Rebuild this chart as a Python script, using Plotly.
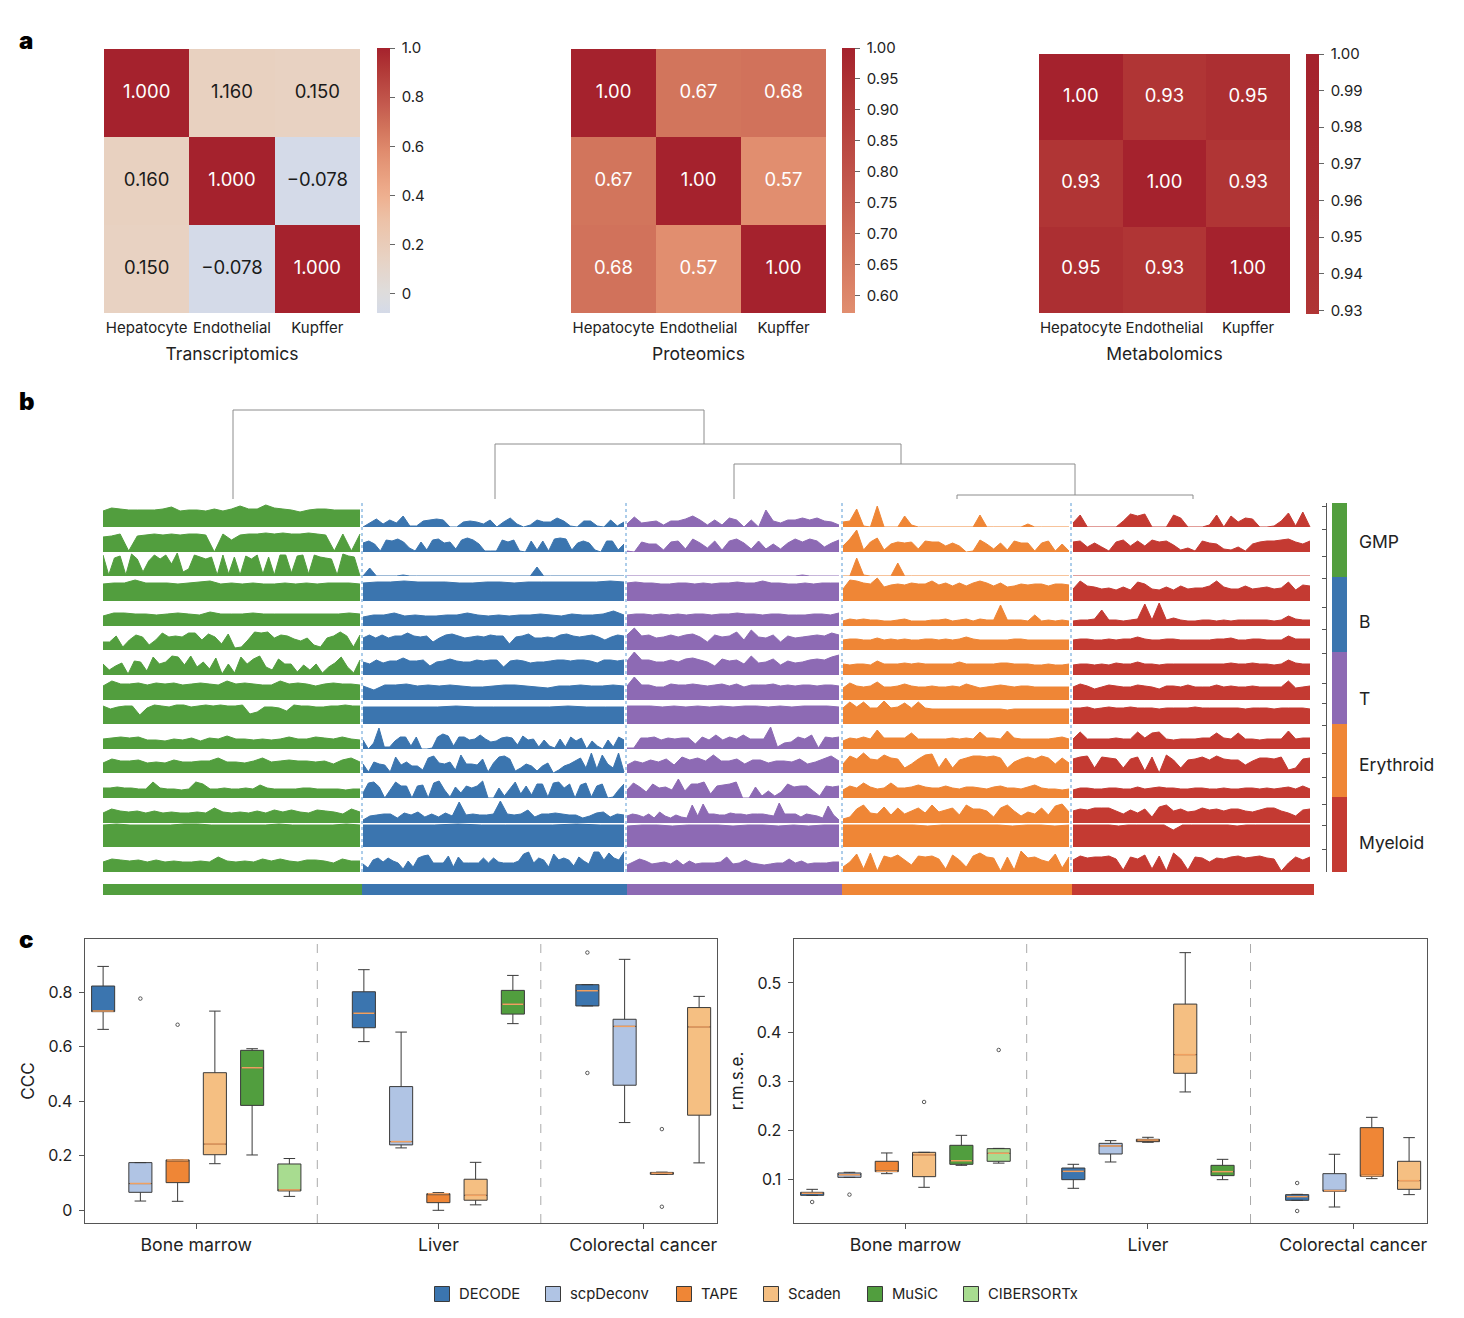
import numpy as np
import plotly.graph_objects as go

W, H = 1464, 1318
FONT = "Inter"
TXT = "#222222"

# panel a
cell_names = ["Hepatocyte", "Endothelial", "Kupffer"]
omics_titles = ["Transcriptomics", "Proteomics", "Metabolomics"]
trans_z = [[1.0, 0.16, 0.15], [0.16, 1.0, -0.078], [0.15, -0.078, 1.0]]
trans_text = [["1.000", "1.160", "0.150"], ["0.160", "1.000", "−0.078"], ["0.150", "−0.078", "1.000"]]
prot_z = [[1.0, 0.67, 0.68], [0.67, 1.0, 0.57], [0.68, 0.57, 1.0]]
prot_text = [["1.00", "0.67", "0.68"], ["0.67", "1.00", "0.57"], ["0.68", "0.57", "1.00"]]
metab_z = [[1.0, 0.93, 0.95], [0.93, 1.0, 0.93], [0.95, 0.93, 1.0]]
metab_text = [["1.00", "0.93", "0.95"], ["0.93", "1.00", "0.93"], ["0.95", "0.93", "1.00"]]
trans_ticks = [0, 0.2, 0.4, 0.6, 0.8, 1.0]
trans_ticktext = ["0", "0.2", "0.4", "0.6", "0.8", "1.0"]
prot_ticks = [0.6, 0.65, 0.7, 0.75, 0.8, 0.85, 0.9, 0.95, 1.0]
metab_ticks = [0.93, 0.94, 0.95, 0.96, 0.97, 0.98, 0.99, 1.0]
z_limits = [(-0.078, 1.0), (0.572, 1.0), (0.929, 1.0)]
scale_vals = [-0.078, 0.0, 0.15, 0.3, 0.4, 0.57, 0.67, 0.8, 0.93, 1.0]
scale_cols = ["#d4dae8", "#dfdedd", "#e8d2c3", "#edc2a8", "#efb08f", "#e28f70", "#d3755d", "#c0534a", "#b03535", "#a5222d"]

# panel b, heights per strip
group_names = ["GMP", "B", "T", "Erythroid", "Myeloid"]
group_cols = ["#529e3e", "#3b75af", "#8d6ab4", "#ef8636", "#c43a32"]
group_start = [0, 260, 524, 740, 970]
group_end = [257, 521, 736, 966, 1207]

gmp_rows = [
    [16, 19, 18, 17, 17, 17, 17, 18, 20, 16, 17, 17, 16, 18, 16, 18, 21, 18, 18, 22, 19, 18, 17, 15, 17, 18, 18, 17, 17, 17, 17],
    [15, 16, 18, 1, 16, 17, 18, 17, 18, 17, 18, 18, 17, 0, 18, 12, 17, 18, 18, 19, 18, 19, 18, 18, 19, 18, 17, 1, 18, 1, 18],
    [21, 1, 18, 20, 1, 22, 17, 4, 15, 21, 17, 21, 12, 23, 4, 7, 21, 19, 17, 19, 1, 21, 2, 19, 1, 20, 17, 21, 2, 19, 1, 21, 21, 3, 20, 21, 2, 21, 19, 18, 17, 1, 22, 20, 19, 0],
    [17, 18, 18, 21, 18, 18, 18, 17, 18, 19, 20, 17, 18, 17, 18, 17, 17, 18, 17, 18, 17, 18, 18, 18, 17],
    [10, 13, 13, 12, 12, 11, 12, 13, 12, 11, 14, 12, 12, 12, 13, 12, 12, 12, 12, 12, 12, 12, 12, 13, 12],
    [8, 8, 14, 3, 10, 15, 13, 5, 10, 17, 13, 14, 13, 17, 17, 10, 16, 13, 6, 16, 2, 3, 10, 18, 17, 18, 12, 15, 14, 11, 9, 12, 5, 3, 12, 14, 18, 14, 3, 15],
    [11, 5, 9, 12, 1, 14, 13, 4, 18, 11, 13, 19, 18, 10, 19, 8, 13, 6, 17, 1, 11, 2, 18, 11, 16, 19, 8, 5, 16, 11, 11, 3, 10, 5, 11, 2, 8, 12, 18, 8, 2, 15],
    [14, 19, 16, 16, 17, 15, 17, 16, 17, 15, 16, 17, 16, 15, 19, 16, 17, 16, 15, 15, 19, 16, 17, 16, 14, 16, 17, 16, 16, 15],
    [18, 15, 17, 18, 18, 9, 16, 19, 18, 17, 19, 19, 17, 18, 19, 18, 19, 18, 18, 19, 10, 12, 17, 17, 16, 13, 19, 18, 18, 17, 17, 18, 18, 19, 18, 18],
    [10, 11, 12, 11, 12, 9, 9, 8, 10, 9, 11, 8, 11, 10, 13, 10, 10, 9, 10, 9, 10, 12, 10, 10, 12, 11, 10, 12, 10, 9],
    [10, 14, 12, 12, 13, 10, 11, 10, 13, 11, 11, 12, 12, 15, 11, 11, 10, 12, 15, 11, 12, 13, 12, 12, 11, 12, 9, 13, 15, 11],
    [10, 10, 11, 10, 10, 9, 9, 16, 10, 9, 9, 8, 9, 16, 14, 9, 9, 10, 9, 9, 10, 9, 13, 10, 9, 9, 9, 9, 10, 10, 9, 9, 9, 9, 8, 9, 9],
    [10, 14, 12, 11, 12, 10, 12, 10, 11, 10, 10, 11, 10, 15, 11, 10, 11, 10, 12, 10, 13, 11, 13, 11, 10, 13, 12, 11, 9, 14, 11],
    [22, 23, 22, 22, 22, 22, 23, 23, 22, 22, 22, 22, 22, 23, 22, 22, 22, 22, 23, 22],
    [10, 13, 12, 11, 12, 10, 12, 10, 11, 10, 10, 11, 10, 15, 11, 10, 11, 10, 13, 11, 13, 11, 10, 12, 12, 11, 9, 13, 11, 11],
]
b_rows = [
    [0, 4, 8, 3, 7, 4, 11, 1, 1, 6, 7, 8, 7, 0, 0, 5, 6, 5, 3, 7, 0, 5, 9, 3, 0, 2, 7, 5, 5, 9, 6, 1, 0, 6, 6, 1, 0, 7, 1, 5],
    [9, 11, 8, 1, 12, 11, 13, 10, 4, 1, 10, 2, 12, 13, 9, 10, 3, 12, 14, 12, 8, 1, 1, 1, 12, 10, 12, 1, 0, 11, 2, 11, 1, 13, 14, 13, 2, 9, 11, 9, 2, 0, 11, 11, 2, 8],
    [0, 8, 0, 0, 0, 0, 1, 0, 0, 0, 0, 0, 0, 0, 0, 0, 0, 0, 0, 0, 0, 0, 0, 0, 0, 0, 9, 0, 0, 0, 0, 0, 0, 0, 0, 0, 0, 0, 0, 0],
    [18, 19, 19, 20, 19, 19, 19, 18, 18, 19, 19, 18, 19, 19, 19, 19, 19, 19, 20, 19],
    [9, 11, 11, 13, 10, 11, 10, 10, 11, 11, 13, 11, 10, 11, 10, 11, 11, 12, 11, 10, 12, 11, 11, 12, 15, 11],
    [12, 15, 12, 15, 12, 14, 14, 17, 14, 13, 14, 8, 12, 15, 16, 14, 12, 13, 14, 13, 15, 14, 14, 6, 13, 14, 16, 12, 12, 13, 12, 15, 16, 14, 13, 14, 15, 13, 10, 13, 15, 14],
    [13, 11, 15, 12, 14, 14, 17, 14, 14, 15, 9, 13, 14, 16, 14, 13, 13, 15, 14, 15, 15, 8, 14, 15, 14, 12, 13, 13, 14, 15, 15, 14, 15, 15, 14, 12, 15, 15, 14, 15],
    [14, 10, 15, 15, 16, 14, 15, 14, 15, 14, 13, 13, 14, 15, 15, 14, 13, 12, 14, 14, 15, 14, 14, 15, 14],
    [17, 17, 17, 17, 17, 18, 17, 17, 17, 17, 17, 18, 17, 17, 17],
    [9, 0, 6, 21, 2, 2, 8, 12, 12, 3, 12, 0, 0, 1, 12, 15, 13, 3, 12, 12, 9, 10, 14, 10, 7, 8, 11, 12, 11, 4, 13, 9, 10, 2, 9, 3, 1, 10, 2, 12, 8, 11, 0, 8, 3, 0, 9, 2, 12, 9],
    [9, 1, 11, 9, 8, 1, 16, 8, 11, 7, 7, 3, 15, 17, 10, 9, 11, 3, 18, 9, 9, 8, 14, 1, 10, 16, 17, 14, 2, 5, 9, 7, 2, 7, 10, 0, 3, 7, 9, 12, 15, 5, 20, 4, 18, 9, 5, 20, 1],
    [5, 15, 16, 11, 0, 8, 16, 12, 12, 0, 12, 13, 0, 15, 17, 8, 1, 11, 5, 12, 10, 12, 17, 0, 0, 10, 2, 9, 16, 4, 12, 3, 14, 14, 1, 15, 16, 10, 14, 0, 13, 15, 1, 12, 14, 0, 1, 8, 14],
    [3, 7, 8, 9, 9, 5, 10, 8, 11, 6, 9, 6, 10, 7, 21, 8, 9, 8, 8, 9, 22, 9, 8, 9, 13, 6, 9, 9, 10, 9, 8, 8, 5, 7, 10, 11, 6, 9, 8],
    [22, 22, 22, 22, 23, 22, 22, 22, 22, 23, 22, 22],
    [8, 4, 12, 14, 10, 14, 11, 9, 3, 11, 5, 14, 16, 17, 9, 9, 9, 16, 5, 15, 9, 9, 9, 9, 14, 9, 14, 10, 9, 9, 9, 11, 18, 20, 9, 14, 12, 5, 18, 12, 14, 12, 6, 15, 11, 8, 20, 20, 12, 19, 14, 12, 20],
]
t_rows = [
    [3, 10, 4, 5, 6, 2, 6, 6, 8, 11, 7, 2, 7, 2, 9, 7, 0, 7, 0, 17, 6, 4, 7, 7, 9, 7, 9, 6, 5, 2],
    [1, 0, 10, 8, 8, 2, 10, 11, 3, 13, 9, 4, 11, 2, 11, 13, 9, 3, 11, 3, 8, 3, 9, 13, 10, 13, 11, 5, 9, 12],
    [0, 0, 0, 0, 0, 0, 0, 0, 0, 0, 0, 0, 0, 0, 0, 0, 0, 0, 0, 0, 0, 0, 0, 0, 1, 0, 0, 0, 0, 0],
    [18, 19, 18, 18, 17, 17, 18, 18, 17, 18, 17, 18, 18, 19, 18, 18, 20, 18, 18, 17, 17, 18, 17, 18, 18, 18],
    [11, 12, 12, 11, 12, 11, 12, 11, 12, 12, 11, 12, 12, 13, 12, 12, 11, 12, 12, 11, 11, 11, 12, 12, 11, 13],
    [15, 22, 14, 15, 12, 13, 15, 13, 15, 16, 13, 8, 15, 13, 14, 18, 10, 20, 13, 12, 15, 8, 14, 12, 13, 14, 15, 14, 17, 15],
    [14, 23, 15, 15, 13, 13, 15, 13, 16, 17, 15, 13, 9, 16, 14, 15, 11, 19, 12, 13, 16, 10, 14, 12, 13, 15, 16, 15, 18, 20],
    [14, 23, 15, 15, 13, 13, 16, 15, 15, 16, 15, 14, 15, 16, 14, 16, 13, 15, 15, 15, 16, 14, 15, 14, 15, 15, 14, 15, 15, 14],
    [18, 18, 18, 17, 18, 17, 18, 17, 18, 17, 18, 18, 17, 18, 17, 18, 18, 18, 17],
    [1, 1, 11, 11, 12, 9, 11, 10, 11, 11, 5, 12, 9, 14, 9, 12, 10, 14, 10, 10, 10, 22, 2, 6, 7, 12, 10, 14, 1, 12, 11, 12],
    [8, 12, 10, 13, 11, 14, 8, 16, 13, 15, 12, 18, 12, 12, 14, 9, 13, 13, 10, 12, 12, 11, 14, 9, 11, 14, 17, 12],
    [8, 15, 11, 6, 14, 10, 11, 8, 19, 7, 14, 14, 16, 4, 12, 13, 14, 16, 0, 0, 11, 2, 7, 2, 6, 14, 11, 12, 12, 7, 2, 12, 11, 12],
    [7, 9, 8, 6, 9, 5, 11, 7, 5, 8, 6, 5, 18, 7, 19, 9, 9, 8, 8, 10, 9, 9, 8, 9, 9, 9, 8, 7, 20, 9, 9, 9, 6, 9, 8, 7, 5, 17, 8, 3],
    [21, 22, 22, 21, 22, 22, 22, 21, 22, 22, 21, 22, 21, 22, 22],
    [7, 10, 13, 11, 8, 9, 10, 8, 12, 7, 11, 8, 9, 9, 9, 10, 15, 8, 9, 12, 9, 8, 7, 8, 9, 9, 13, 9, 11, 8, 9, 9, 9, 10, 10],
]
ery_rows = [
    [5, 6, 18, 1, 0, 21, 0, 0, 0, 11, 2, 0, 0, 0, 0, 0, 0, 0, 0, 0, 12, 0, 0, 0, 0, 0, 0, 3, 0, 0, 0, 0, 0, 0],
    [6, 13, 22, 2, 10, 14, 2, 8, 10, 9, 10, 3, 11, 10, 10, 6, 9, 6, 0, 1, 12, 8, 3, 9, 2, 11, 9, 9, 1, 9, 11, 1, 8, 1],
    [0, 0, 18, 1, 0, 0, 0, 0, 13, 0, 0, 0, 0, 0, 0, 0, 0, 0, 0, 0, 0, 0, 0, 0, 0, 0, 0, 0, 0, 0, 0, 0, 0, 0],
    [12, 21, 20, 18, 17, 23, 14, 16, 17, 16, 18, 17, 17, 20, 16, 18, 15, 18, 15, 18, 20, 18, 15, 18, 14, 15, 17, 16, 17, 17, 15, 17, 17, 16],
    [5, 7, 6, 7, 6, 6, 5, 5, 6, 7, 5, 5, 5, 6, 6, 7, 5, 6, 7, 5, 7, 6, 6, 21, 6, 6, 6, 5, 11, 5, 6, 5, 6, 5],
    [10, 11, 11, 10, 10, 12, 10, 11, 10, 11, 10, 10, 11, 11, 10, 11, 10, 11, 13, 11, 10, 10, 10, 10, 10, 11, 11, 10, 10, 10, 10, 10, 10, 10],
    [11, 10, 11, 11, 10, 14, 11, 11, 11, 12, 11, 12, 11, 11, 11, 11, 11, 13, 11, 11, 11, 11, 11, 12, 12, 11, 11, 11, 10, 10, 11, 10, 10, 11],
    [12, 17, 14, 13, 14, 18, 13, 13, 14, 16, 14, 13, 13, 14, 13, 13, 14, 13, 16, 14, 12, 13, 14, 15, 14, 13, 14, 14, 13, 13, 13, 13, 13, 13],
    [16, 22, 17, 22, 16, 16, 23, 16, 17, 21, 16, 22, 16, 15, 15, 15, 15, 15, 15, 15, 15, 15, 15, 15, 14, 15, 15, 15, 15, 15, 15, 15, 15, 15],
    [8, 11, 10, 12, 10, 19, 11, 11, 11, 11, 16, 10, 10, 10, 10, 10, 11, 10, 11, 10, 17, 11, 11, 10, 18, 11, 10, 10, 10, 10, 10, 11, 12, 10],
    [9, 17, 14, 20, 14, 13, 18, 15, 14, 5, 9, 14, 18, 19, 5, 15, 5, 13, 15, 17, 17, 16, 17, 15, 5, 11, 14, 16, 14, 17, 15, 9, 15, 10],
    [8, 12, 10, 15, 11, 9, 10, 15, 10, 10, 11, 13, 11, 10, 10, 12, 10, 9, 11, 11, 10, 9, 11, 12, 10, 10, 9, 11, 13, 10, 9, 9, 8, 9],
    [4, 6, 14, 18, 10, 9, 16, 8, 15, 9, 12, 15, 10, 18, 11, 13, 15, 8, 18, 14, 14, 12, 6, 15, 18, 12, 7, 11, 9, 15, 8, 17, 19, 11],
    [22, 22, 22, 22, 22, 22, 21, 22, 22, 22, 22, 22, 21, 22, 22, 21, 22],
    [5, 10, 18, 3, 19, 1, 16, 14, 17, 12, 7, 16, 15, 16, 13, 3, 17, 12, 5, 16, 19, 15, 14, 1, 15, 2, 21, 14, 15, 12, 10, 18, 4, 15],
]
mye_rows = [
    [4, 12, 0, 0, 0, 0, 0, 6, 13, 11, 13, 0, 0, 0, 12, 9, 0, 0, 0, 2, 12, 0, 11, 5, 9, 8, 0, 0, 1, 6, 14, 1, 15, 0],
    [10, 11, 5, 9, 5, 1, 10, 12, 6, 11, 6, 12, 10, 11, 7, 2, 4, 1, 11, 9, 8, 3, 2, 5, 1, 8, 10, 11, 11, 12, 13, 10, 8, 11],
    [0, 0, 0, 0, 0, 0, 0, 0, 0, 0, 0, 0, 0, 0, 0, 0, 0, 0, 0, 0, 0, 0, 0, 0, 0, 0, 0, 0, 0, 0, 0, 0, 0, 0],
    [12, 20, 15, 14, 12, 13, 11, 14, 11, 19, 17, 12, 11, 14, 11, 15, 12, 13, 13, 15, 20, 14, 12, 12, 15, 12, 13, 14, 12, 13, 19, 11, 16, 15],
    [5, 6, 6, 7, 16, 6, 6, 5, 6, 7, 22, 6, 23, 6, 8, 6, 5, 5, 6, 6, 5, 6, 5, 6, 6, 6, 6, 6, 5, 6, 10, 7, 6, 6],
    [10, 11, 11, 10, 10, 11, 10, 11, 11, 13, 11, 10, 10, 11, 11, 10, 10, 10, 10, 10, 11, 11, 12, 10, 10, 11, 11, 10, 10, 10, 14, 11, 11, 11],
    [10, 11, 11, 10, 11, 10, 12, 11, 11, 13, 11, 11, 10, 11, 11, 11, 11, 11, 11, 11, 11, 11, 12, 11, 11, 12, 11, 11, 10, 11, 15, 12, 11, 11],
    [13, 16, 14, 11, 13, 15, 14, 13, 13, 15, 14, 13, 11, 14, 14, 13, 15, 13, 13, 13, 15, 13, 14, 13, 13, 14, 13, 13, 13, 13, 19, 12, 13, 14],
    [16, 16, 17, 15, 16, 17, 16, 16, 17, 16, 16, 16, 15, 16, 16, 16, 16, 17, 16, 16, 16, 16, 16, 16, 15, 16, 16, 16, 15, 16, 16, 16, 16, 15],
    [10, 17, 10, 10, 10, 10, 11, 10, 10, 17, 11, 16, 17, 10, 9, 10, 10, 10, 11, 11, 16, 11, 10, 16, 10, 10, 9, 10, 10, 10, 18, 10, 11, 11],
    [14, 16, 17, 5, 16, 15, 14, 5, 14, 16, 2, 16, 0, 18, 13, 5, 13, 14, 16, 13, 17, 14, 13, 13, 8, 12, 15, 15, 14, 16, 3, 5, 14, 15],
    [8, 10, 10, 9, 9, 10, 10, 9, 9, 11, 9, 10, 11, 10, 10, 9, 9, 10, 10, 9, 9, 10, 9, 9, 10, 10, 9, 10, 9, 10, 11, 9, 12, 9],
    [12, 14, 13, 15, 15, 15, 12, 9, 13, 10, 14, 6, 16, 18, 12, 14, 11, 12, 15, 13, 14, 12, 14, 14, 12, 11, 13, 15, 15, 12, 10, 7, 13, 14],
    [22, 22, 22, 22, 22, 21, 22, 22, 22, 22, 22, 17, 22, 22, 22, 22, 22, 22, 21, 22, 22, 22, 22, 22, 22, 22, 22],
    [12, 16, 14, 15, 15, 16, 13, 2, 15, 13, 17, 3, 16, 1, 19, 13, 2, 15, 14, 10, 14, 13, 15, 16, 14, 15, 16, 14, 13, 1, 9, 15, 12, 15],
]
all_rows = [gmp_rows, b_rows, t_rows, ery_rows, mye_rows]

dend_left = [130, 392, 631, 854]
dend_right = [601, 798, 972, 1090]
dend_height = [89, 55, 35, 4]
dend_floor = [55, 35, 4, 0]
group_seps = [259, 523, 739, 968]
bar_starts = [0, 259, 524, 739, 969]
bar_widths = [259, 265, 215, 230, 242]
side_starts = [0, 74, 149, 221, 294]
side_heights = [74, 75, 72, 73, 75]
side_ticks = [3, 26, 53, 75, 104, 126, 150, 180, 200, 222, 250, 274, 301, 322, 346]

# panel c, one entry per box, left to right
methods = ["DECODE", "scpDeconv", "TAPE", "Scaden", "MuSiC", "CIBERSORTx"]
method_cols = ["#3b75af", "#b0c4e4", "#ef8636", "#f5bf82", "#519e3e", "#a8dc90"]
box_slot = [0, 1, 2, 3, 4, 5, 7, 8, 9, 10, 11, 13, 14, 15, 16]
box_method = [0, 1, 2, 3, 4, 5, 0, 1, 2, 3, 4, 0, 1, 2, 3]
site_names = ["Bone marrow", "Liver", "Colorectal cancer"]
site_ticks = [2.5, 9, 14.5]
site_seps = [5.75, 11.75]

ccc_low = [0.664, 0.034, 0.033, 0.171, 0.203, 0.051, 0.619, 0.229, 0.0, 0.02, 0.685, 0.75, 0.322, 0.132, 0.174]
ccc_q1 = [0.729, 0.066, 0.1015, 0.204, 0.385, 0.071, 0.67, 0.24, 0.028, 0.037, 0.72, 0.75, 0.459, 0.132, 0.349]
ccc_med = [0.731, 0.098, 0.185, 0.243, 0.523, 0.075, 0.723, 0.252, 0.061, 0.055, 0.756, 0.806, 0.675, 0.136, 0.673]
ccc_q3 = [0.823, 0.175, 0.185, 0.505, 0.587, 0.17, 0.802, 0.454, 0.061, 0.114, 0.807, 0.828, 0.701, 0.139, 0.744]
ccc_high = [0.895, 0.175, 0.186, 0.731, 0.593, 0.19, 0.883, 0.654, 0.065, 0.176, 0.862, 0.828, 0.921, 0.14, 0.785]
ccc_out_slot = [1, 2, 13, 13, 15, 15]
ccc_out_val = [0.777, 0.681, 0.946, 0.504, 0.298, 0.013]

rmse_low = [0.0674, 0.104, 0.1115, 0.0837, 0.1285, 0.133, 0.0817, 0.1353, 0.1754, 0.278, 0.0993, 0.0572, 0.0436, 0.1014, 0.0688]
rmse_q1 = [0.0674, 0.104, 0.1156, 0.1054, 0.1306, 0.1367, 0.0993, 0.1516, 0.1767, 0.316, 0.1075, 0.0572, 0.0756, 0.1061, 0.0796]
rmse_med = [0.0715, 0.1095, 0.1163, 0.1496, 0.138, 0.153, 0.1163, 0.168, 0.18, 0.354, 0.1156, 0.0647, 0.0769, 0.1075, 0.0973]
rmse_q3 = [0.0735, 0.1129, 0.1367, 0.155, 0.1693, 0.1625, 0.123, 0.1733, 0.1815, 0.457, 0.1285, 0.0688, 0.1115, 0.2053, 0.1367]
rmse_high = [0.0796, 0.1143, 0.1537, 0.155, 0.1896, 0.163, 0.1306, 0.1788, 0.1856, 0.5618, 0.1407, 0.0694, 0.151, 0.2263, 0.1849]
rmse_out_slot = [0, 1, 3, 5, 13, 13]
rmse_out_val = [0.0538, 0.0688, 0.2576, 0.3635, 0.0925, 0.0355]


def xdom(x0, x1):
    return [x0 / W, x1 / W]


def ydom(y0, y1):
    return [1 - y1 / H, 1 - y0 / H]


def hex_rgb(c):
    return np.array([int(c[i:i + 2], 16) for i in (1, 3, 5)])


def cut_scale(zmin, zmax):
    # same colour for the same value in all three heatmaps
    rgb = np.array([hex_rgb(c) for c in scale_cols])
    out = []
    for t in np.linspace(0, 1, 24):
        v = zmin + t * (zmax - zmin)
        col = [np.interp(v, scale_vals, rgb[:, k]) for k in range(3)]
        out.append([float(t), "rgb(%d,%d,%d)" % tuple(col)])
    return out


fig = go.Figure()
layout = dict(
    width=W, height=H, margin=dict(l=0, r=0, t=0, b=0, autoexpand=False),
    paper_bgcolor="white", plot_bgcolor="white",
    font=dict(family=FONT, color=TXT, size=15),
    barmode="overlay", showlegend=False,
)
annots = []
shapes = []

# heatmaps
heat_x = [(104, 360), (571, 826), (1039, 1290)]
heat_y = [(49, 313), (49, 313), (54, 313)]
bar_x = [377, 842, 1306]
bar_y = [(48, 313), (48, 313), (54, 314)]
heat_z = [trans_z, prot_z, metab_z]
heat_text = [trans_text, prot_text, metab_text]
heat_ticks = [trans_ticks, prot_ticks, metab_ticks]
heat_ticktext = [trans_ticktext, ["%.2f" % t for t in prot_ticks], ["%.2f" % t for t in metab_ticks]]
for k in range(3):
    zmin, zmax = z_limits[k]
    xa, ya = "x%d" % (k + 1), "y%d" % (k + 1)
    # nbsp in front of the labels, the colorbar has no tick label standoff
    fig.add_trace(go.Heatmap(
        z=heat_z[k], x=cell_names, y=cell_names, xaxis=xa, yaxis=ya, zmin=zmin, zmax=zmax,
        colorscale=cut_scale(zmin, zmax), hoverinfo="skip", showlegend=False,
        colorbar=dict(x=bar_x[k] / W, xanchor="left", xpad=0, ypad=0, thickness=12.5,
                      lenmode="pixels", len=bar_y[k][1] - bar_y[k][0], y=1 - bar_y[k][0] / H, yanchor="top",
                      outlinewidth=0, ticks="outside", ticklen=5, tickwidth=1, tickcolor="#666666",
                      tickvals=heat_ticks[k], ticktext=["\u00a0" + t for t in heat_ticktext[k]],
                      tickfont=dict(size=15, color=TXT)),
    ))
    xs, ys, labels, cols = [], [], [], []
    for r in range(3):
        for c in range(3):
            xs.append(cell_names[c])
            ys.append(cell_names[r])
            labels.append(heat_text[k][r][c])
            cols.append("white" if heat_z[k][r][c] > 0.5 else "#1a1a1a")
    fig.add_trace(go.Scatter(x=xs, y=ys, text=labels, mode="text", xaxis=xa, yaxis=ya, hoverinfo="skip",
                             textfont=dict(size=18.5, color=cols), showlegend=False))
    layout["xaxis" + ("" if k == 0 else str(k + 1))] = dict(
        domain=xdom(*heat_x[k]), anchor=ya, tickangle=0, ticks="", showgrid=False, zeroline=False,
        tickfont=dict(size=15), title=dict(text=omics_titles[k], font=dict(size=17.5), standoff=11),
        ticklabelstandoff=4, showline=False)
    layout["yaxis" + ("" if k == 0 else str(k + 1))] = dict(
        domain=ydom(*heat_y[k]), anchor=xa, autorange="reversed", visible=False)

# strips, one y axis per row on a shared x axis
strip_x = "x4"
strip_base = [527, 552, 576, 601, 626, 650, 675, 700, 724, 749, 773, 798, 823, 847, 872]
layout["xaxis4"] = dict(domain=xdom(103, 1314), range=[0, 1211], visible=False, anchor="y4")
for r, base in enumerate(strip_base):
    ya = "y%d" % (r + 4)
    layout["yaxis%d" % (r + 4)] = dict(domain=ydom(base - 24, base), range=[0, 24], visible=False, anchor="x4")
    for g in range(5):
        vals = all_rows[g][r]
        fig.add_trace(go.Scatter(
            x=np.linspace(group_start[g], group_end[g], len(vals)), y=vals, mode="lines", xaxis=strip_x, yaxis=ya,
            fill="tozeroy", fillcolor=group_cols[g], line=dict(color=group_cols[g], width=1),
            cliponaxis=False, hoverinfo="skip", showlegend=False))

# dendrogram
dx, dy = [], []
for l, rr, h, f in zip(dend_left, dend_right, dend_height, dend_floor):
    dx += [l, l, rr, rr, None]
    dy += [0, h, h, f, None]
layout["yaxis19"] = dict(domain=ydom(405, 499), range=[0, 94], visible=False, anchor="x4")
fig.add_trace(go.Scatter(x=dx, y=dy, mode="lines", xaxis="x4", yaxis="y19", line=dict(color="#8c8c8c", width=1),
                         hoverinfo="skip", showlegend=False))

# colour bar under the strips
layout["yaxis20"] = dict(domain=ydom(884, 895), range=[-0.5, 0.5], visible=False, anchor="x4")
fig.add_trace(go.Bar(x=bar_widths, base=bar_starts, y=[0] * 5, orientation="h", width=1, xaxis="x4", yaxis="y20",
                     marker=dict(color=group_cols, line=dict(width=0)), hoverinfo="skip", showlegend=False))

# colour bar at the right
layout["xaxis5"] = dict(domain=xdom(1332, 1347), range=[-0.5, 0.5], visible=False, anchor="y21")
layout["yaxis21"] = dict(domain=ydom(503, 872), range=[369, 0], anchor="free", position=1326 / W, side="left",
                         tickvals=side_ticks, ticks="outside", ticklen=4, tickcolor="#555555", showticklabels=False,
                         showgrid=False, zeroline=False, showline=True, linecolor="#555555", linewidth=1)
fig.add_trace(go.Bar(x=[0] * 5, y=side_heights, base=side_starts, width=1, xaxis="x5", yaxis="y21",
                     marker=dict(color=group_cols, line=dict(width=0)), hoverinfo="skip", showlegend=False))
for name, y in zip(group_names, [541, 621, 698, 764, 842]):
    annots.append(dict(text=name, x=1357 / W, y=1 - y / H, xref="paper", yref="paper", xanchor="left",
                       yanchor="middle", showarrow=False, font=dict(size=17.5)))
for sep in group_seps:
    shapes.append(dict(type="line", xref="x4", yref="paper", x0=sep, x1=sep, y0=1 - 503 / H, y1=1 - 872 / H,
                       line=dict(color="#5b9bd5", width=1, dash="dot")))

# box plots
panels = [
    ("x6", "y22", (84.5, 717), [-0.0466, 0.9956], [0, 0.2, 0.4, 0.6, 0.8], ["0", "0.2", "0.4", "0.6", "0.8"], "CCC", 8,
     (ccc_low, ccc_q1, ccc_med, ccc_q3, ccc_high), (ccc_out_slot, ccc_out_val)),
    ("x7", "y23", (793.5, 1427), [0.011, 0.5896], [0.1, 0.2, 0.3, 0.4, 0.5], ["0.1", "0.2", "0.3", "0.4", "0.5"], "r.m.s.e.", 8,
     (rmse_low, rmse_q1, rmse_med, rmse_q3, rmse_high), (rmse_out_slot, rmse_out_val)),
]
for p, (xa, ya, xpx, yrange, yticks, yticktext, ytitle, ystand, stats, outliers) in enumerate(panels):
    low, q1, med, q3, high = stats
    for m, name in enumerate(methods):
        idx = [i for i, bm in enumerate(box_method) if bm == m]
        fig.add_trace(go.Box(
            x=[box_slot[i] for i in idx], lowerfence=[low[i] for i in idx], q1=[q1[i] for i in idx],
            median=[med[i] for i in idx], q3=[q3[i] for i in idx], upperfence=[high[i] for i in idx],
            name=name, showlegend=False, width=0.62, whiskerwidth=0.5, boxpoints=False,
            fillcolor=method_cols[m], line=dict(color="#3a3a3a", width=1), xaxis=xa, yaxis=ya, hoverinfo="skip"))
    fig.add_trace(go.Scatter(x=box_slot, y=med, mode="markers", xaxis=xa, yaxis=ya, hoverinfo="skip", showlegend=False,
                             marker=dict(symbol="line-ew", size=15, line=dict(color="#f0a060", width=1.5))))
    fig.add_trace(go.Scatter(x=outliers[0], y=outliers[1], mode="markers", xaxis=xa, yaxis=ya, hoverinfo="skip",
                             showlegend=False,
                             marker=dict(symbol="circle-open", size=3.5, color="#333333", line=dict(width=0.8))))
    layout["xaxis%d" % (6 + p)] = dict(
        domain=xdom(*xpx), range=[-0.5, 16.48], anchor=ya, tickvals=site_ticks, ticktext=site_names, tickangle=0,
        ticks="outside", ticklen=5, tickcolor="#555555", tickfont=dict(size=17.7), showgrid=False, zeroline=False,
        showline=True, mirror=True, linecolor="#555555", linewidth=1, ticklabelstandoff=1)
    layout["yaxis%d" % (22 + p)] = dict(
        domain=ydom(939, 1223), range=yrange, anchor=xa, tickvals=yticks, ticktext=yticktext, ticks="outside", ticklen=5,
        tickcolor="#555555", tickfont=dict(size=16), showgrid=False, zeroline=False, showline=True, mirror=True,
        linecolor="#555555", linewidth=1, ticklabelstandoff=3, title=dict(text=ytitle, font=dict(size=17), standoff=ystand))
    for sep in site_seps:
        shapes.append(dict(type="line", xref=xa, yref=ya + " domain", x0=sep, x1=sep, y0=0, y1=1,
                           line=dict(color="#aaaaaa", width=1, dash="dash")))

# legend row under panel c, on an axis of its own so the swatch spacing follows the figure
legend_x = [442, 553, 684, 771, 875, 971]
layout["xaxis8"] = dict(domain=[0, 1], range=[0, W], visible=False, anchor="y24")
layout["yaxis24"] = dict(domain=ydom(1285, 1303), range=[-1, 1], visible=False, anchor="x8")
fig.add_trace(go.Scatter(x=legend_x, y=[0] * 6, mode="markers", xaxis="x8", yaxis="y24", hoverinfo="skip", showlegend=False,
                         marker=dict(symbol="square", size=15, color=method_cols, line=dict(color="#3a3a3a", width=1))))
for name, lx in zip(methods, legend_x):
    annots.append(dict(text=name, x=lx + 15, y=0, xref="x8", yref="y24", xanchor="left", yanchor="middle",
                       showarrow=False, font=dict(size=14.8)))

for letter, y in zip(["a", "b", "c"], [41, 401, 939]):
    annots.append(dict(text=letter, x=17 / W, y=1 - y / H, xref="paper", yref="paper", xanchor="left", yanchor="middle",
                       showarrow=False, font=dict(size=24, color="black", weight=900)))

layout["annotations"] = annots
layout["shapes"] = shapes
fig.update_layout(**layout)
fig.write_html("out.html", config={"displayModeBar": False}, post_script="document.body.style.margin='0';")
